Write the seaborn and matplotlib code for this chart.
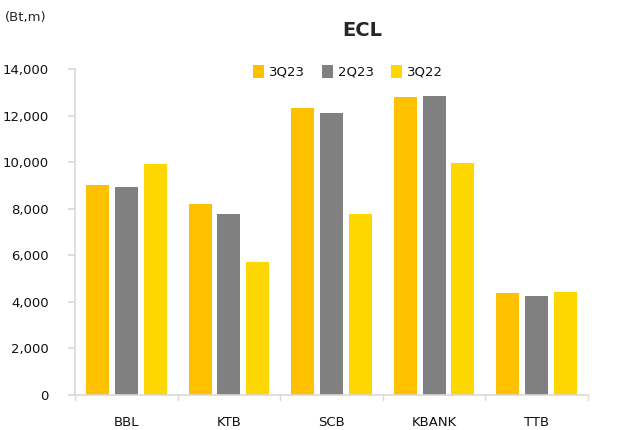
import matplotlib
matplotlib.use("Agg")
import matplotlib.pyplot as plt
import seaborn as sns
import pandas as pd

banks = ["BBL", "KTB", "SCB", "KBANK", "TTB"]
series = ["3Q23", "2Q23", "3Q22"]
v_3q23 = [9000, 8200, 12320, 12800, 4380]
v_2q23 = [8920, 7770, 12110, 12820, 4250]
v_3q22 = [9940, 5720, 7770, 9970, 4420]
colors = ["#FFC000", "#808080", "#FFD700"]

rows = []
for s, vals in zip(series, [v_3q23, v_2q23, v_3q22]):
    for b, v in zip(banks, vals):
        rows.append({"bank": b, "series": s, "value": v})
df = pd.DataFrame(rows)

sns.set_theme(style="white")
plt.rcParams["font.family"] = ["DejaVu Sans"]

fig = plt.figure(figsize=(6.21, 4.30), dpi=100)
ax = fig.add_axes([75/621, 1-395/430, (588-75)/621, (395-69)/430])

sns.barplot(data=df, x="bank", y="value", hue="series", hue_order=series,
            order=banks, palette=colors, width=0.84, gap=0.2,
            linewidth=0, saturation=1, ax=ax)

ax.set_ylim(0, 14000)
ax.set_xlim(-0.5, 4.5)
ax.set_yticks(range(0, 14001, 2000))
ax.set_yticklabels([f"{t:,}" for t in range(0, 14001, 2000)], fontsize=9.5, color="#111111")
ax.set_xticks(range(5))
ax.set_xticklabels(banks, fontsize=9.5, color="#111111")
ax.tick_params(axis="x", length=0, pad=15)
ax.tick_params(axis="y", length=5, color="#D9D9D9", pad=14, direction="out", left=True)
for x in [-0.5, 0.5, 1.5, 2.5, 3.5, 4.5]:
    ax.plot([x, x], [0, -0.015], transform=ax.get_xaxis_transform(),
            color="#D9D9D9", lw=1, clip_on=False)
ax.set_xlabel("")
ax.set_ylabel("")
for side in ["top", "right"]:
    ax.spines[side].set_visible(False)
for side in ["left", "bottom"]:
    ax.spines[side].set_color("#D9D9D9")
    ax.spines[side].set_linewidth(1.2)

leg = ax.legend(loc="center", bbox_to_anchor=((348-75)/513, 1 + (69-72)/326), ncol=3,
                frameon=False, fontsize=9.5, handlelength=0.85, handleheight=1.1,
                columnspacing=1.3, handletextpad=0.35)
for t in leg.get_texts():
    t.set_color("#111111")

fig.text(362/621, 1-30/430, "ECL", ha="center", va="center", fontsize=14, fontweight="bold")
fig.text(5/621, 1-18/430, "(Bt,m)", ha="left", va="center", fontsize=9.5)

fig.savefig("out.png", dpi=100)
